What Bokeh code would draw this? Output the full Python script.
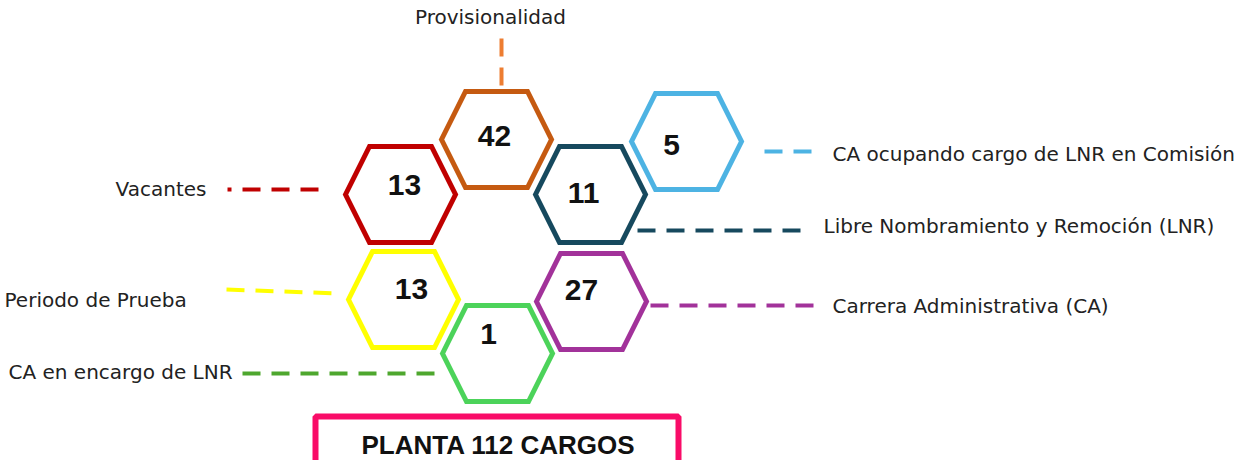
from bokeh.plotting import figure
from bokeh.models import Range1d, ColumnDataSource
from bokeh.core.properties import value
from bokeh.embed import file_html
from bokeh.resources import INLINE

# ---- data ----
categories = ["Provisionalidad", "Vacantes", "Libre Nombramiento y Remoción (LNR)",
              "CA ocupando cargo de LNR en Comisión", "Periodo de Prueba",
              "Carrera Administrativa (CA)", "CA en encargo de LNR"]
values = [42, 13, 11, 5, 13, 27, 1]
total_label = "PLANTA 112 CARGOS"

# ---- styles ----
hex_colors = ["#C55A11", "#C00000", "#16495E", "#4DB3E3", "#FFFF00", "#A2329A", "#4CD35A"]
dash_colors = ["#ED7D31", "#C00000", "#16495E", "#4DB3E3", "#FFFF00", "#A2329A", "#4EA72E"]

# ---- layout (screen pixel positions) ----
hex_cx = [502, 406, 596, 692, 409, 597, 503]
hex_cy = [143, 198, 198, 145, 303, 305, 357]
num_dx = [-2, 4, -7, -15, 8, -10, -9]
num_dy = [-4, -10, -2, 3, -11, -12, -20]
A, B, H = 55, 31, 48

# leader lines: (x0, y0, x1, y1)
lead_x0 = [507, 233, 643, 770, 232, 656, 248]
lead_y0 = [42, 193, 234, 155, 293, 309, 377]
lead_x1 = [507, 327, 812, 822, 345, 822, 443]
lead_y1 = [90, 193, 234, 155, 297, 309, 377]
lead_offset = [0, 14, 0, 0, 0, 0, 0]

# labels
lab_x = [496, 212, 829, 838, 10, 838, 14]
lab_y = [20, 192, 229, 157, 303, 309, 375]
lab_align = ["center", "right", "left", "left", "left", "left", "left"]

W, Ht = 1234, 460
X0, Y0 = 6, 4
p = figure(width=W, height=Ht, output_backend="svg", toolbar_location=None,
           x_range=Range1d(X0, X0 + W), y_range=Range1d(Y0 + Ht, Y0),
           min_border=0, outline_line_color=None)
p.axis.visible = False
p.grid.visible = False
p.background_fill_color = "white"
p.border_fill_color = "white"

# leader lines
for i in range(len(categories)):
    p.line([lead_x0[i], lead_x1[i]], [lead_y0[i], lead_y1[i]],
           line_color=dash_colors[i], line_width=4, line_dash="18 11",
           line_dash_offset=lead_offset[i])

# hexagons
xs, ys = [], []
for cx, cy in zip(hex_cx, hex_cy):
    xs.append([cx - A, cx - B, cx + B, cx + A, cx + B, cx - B])
    ys.append([cy, cy - H, cy - H, cy, cy + H, cy + H])
src = ColumnDataSource(dict(xs=xs, ys=ys, color=hex_colors))
p.patches("xs", "ys", source=src, fill_color="white", fill_alpha=0,
          line_color="color", line_width=5, line_join="miter")

# numbers
nsrc = ColumnDataSource(dict(
    x=[c + d for c, d in zip(hex_cx, num_dx)],
    y=[c + d for c, d in zip(hex_cy, num_dy)],
    t=[str(v) for v in values]))
p.text("x", "y", text="t", source=nsrc, text_font=value("Liberation Sans"),
       text_font_style="bold", text_font_size="30px", text_color="#111111",
       text_align="center", text_baseline="middle")

# category labels
for i, c in enumerate(categories):
    p.text([lab_x[i]], [lab_y[i]], text=[c], text_font=value("DejaVu Sans"),
           text_font_size="20px", text_color="#222222",
           text_align=lab_align[i], text_baseline="middle")

# total box
p.quad(left=[321], right=[684], top=[420], bottom=[500], fill_alpha=0,
       line_color="#F90C68", line_width=6)
p.text([504], [448], text=[total_label], text_font=value("Liberation Sans"),
       text_font_style="bold", text_font_size="26px", text_color="#111111",
       text_align="center", text_baseline="middle")

open("out.html", "w").write(file_html(p, INLINE))
